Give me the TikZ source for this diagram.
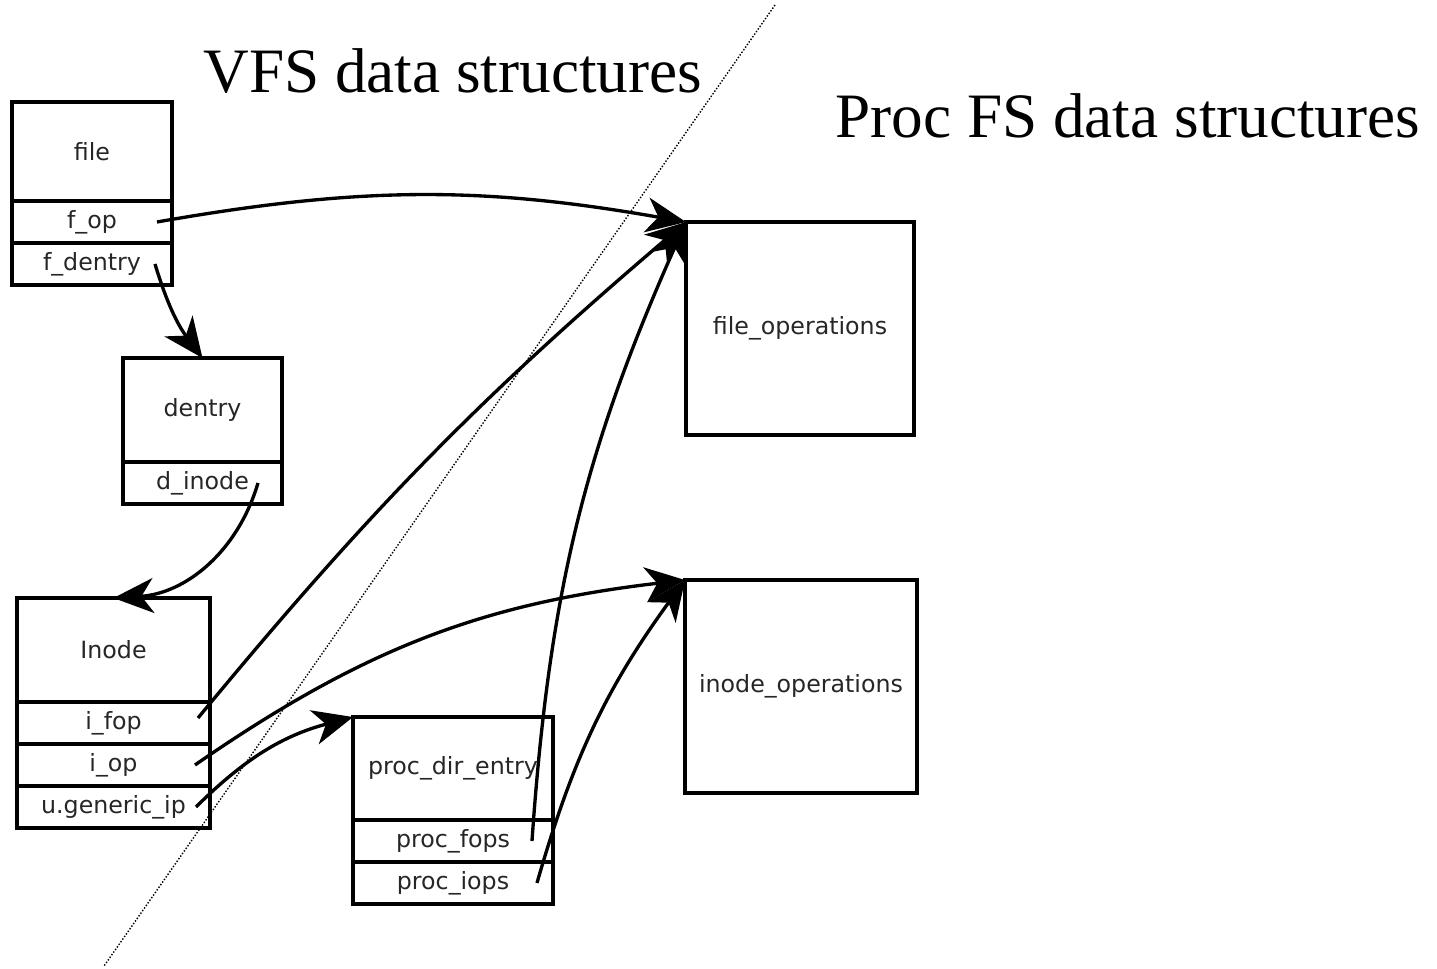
\documentclass[tikz,border=0pt]{standalone}
\usepackage{fontspec}
\newfontfamily\boxfont{DejaVu Sans}
\newfontfamily\titlefont{Liberation Serif}
\usetikzlibrary{arrows.meta,positioning}
\tikzset{
  obj/.style={draw,line width=2pt,outer sep=0pt,inner sep=0pt,text=black!85,
              font=\boxfont\fontsize{13.5}{16}\selectfont},
  hd/.style={obj,minimum height=2.06cm},
  fld/.style={obj,minimum height=0.84cm},
  ops/.style={obj,minimum height=4.26cm},
  arr/.style={-{Stealth[length=0.8cm,width=0.7cm,inset=0.24cm]},line width=1.9pt},
  ttl/.style={font=\titlefont\fontsize{36}{40}\selectfont,anchor=base west,inner sep=0pt},
}
\begin{document}
\begin{tikzpicture}[x=0.02cm,y=-0.02cm,node distance=0pt]
\useasboundingbox (0,0) rectangle (1437,968);

\node[ttl] (vfs)  at (203,92)  {VFS data structures};
\node[ttl] (proc) at (835,137) {Proc FS data structures};
\coordinate (divtop) at (775,5);
\coordinate (divbot) at (104,966);
\draw[line width=0.8pt,dash pattern=on 0.8pt off 1pt] (divtop) -- (divbot);

\node[hd,minimum width=3.2cm,minimum height=1.98cm] (file) at (92,151.5) {file};
\node[fld,minimum width=3.2cm,below=0pt of file]    (fop)     {f\_op};
\node[fld,minimum width=3.2cm,below=0pt of fop]     (fdentry) {f\_dentry};

\node[hd,minimum width=3.18cm,minimum height=2.08cm] (dentry) at (202.5,410) {dentry};
\node[fld,minimum width=3.18cm,below=0pt of dentry] (dinode) {d\_inode};

\node[hd,minimum width=3.86cm,minimum height=2.08cm] (inode) at (113.5,650) {Inode};
\node[fld,minimum width=3.86cm,below=0pt of inode] (ifop) {i\_fop};
\node[fld,minimum width=3.86cm,below=0pt of ifop]  (iop)  {i\_op};
\node[fld,minimum width=3.86cm,below=0pt of iop]   (ugen) {u.generic\_ip};

\node[hd,minimum width=4cm] (procdir) at (453,768.5) {proc\_dir\_entry};
\node[fld,minimum width=4cm,below=0pt of procdir] (pfops) {proc\_fops};
\node[fld,minimum width=4cm,below=0pt of pfops]   (piops) {proc\_iops};

\node[ops,minimum width=4.56cm] (fileops)  at (800,328.5) {file\_operations};
\node[ops,minimum width=4.64cm] (inodeops) at (801,686.5) {inode\_operations};

\draw[arr] ([xshift=-0.3cm]fop.east)      to[bend left=10] (fileops.north west);
\draw[arr] ([xshift=-0.34cm]fdentry.east) to[bend right=10] (dentry.north);
\draw[arr] ([xshift=-0.48cm]dinode.east)  to[bend left=35] (inode.north);
\draw[arr] ([xshift=-0.24cm,yshift=0.1cm]ifop.east) to[bend left=5] (fileops.north west);
\draw[arr] ([xshift=-0.3cm]iop.east)      to[bend left=14] (inodeops.north west);
\draw[arr] ([xshift=-0.28cm]ugen.east)    to[bend left=15] (procdir.north west);
\draw[arr] ([xshift=-0.42cm]pfops.east)   to[bend left=10] (fileops.north west);
\draw[arr] ([xshift=-0.32cm]piops.east)   to[bend left=10] (inodeops.north west);
\end{tikzpicture}
\end{document}
